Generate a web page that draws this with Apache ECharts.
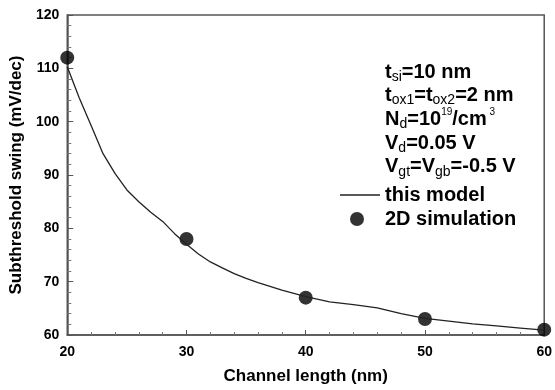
<!DOCTYPE html>
<html lang="en">
<head>
  <meta charset="UTF-8">
  <script src="https://cdn.jsdelivr.net/npm/echarts@6/dist/echarts.min.js"></script>
</head>
<body style="margin:0;background:#fff;">
<div id="main" style="width:555px;height:390px;"></div>

<script>
  // model curve (channel length in nm, swing in mV/dec)
  var modelX = [20, 21, 22, 23, 24, 25, 26, 27, 28, 29, 30, 31, 32, 33, 34, 35, 36, 37, 38, 39, 40, 42, 44, 46, 48, 50, 52, 54, 56, 58, 60];
  var modelY = [110.3, 104.5, 99.3, 94.0, 90.3, 87.2, 85.0, 83.0, 81.3, 79.0, 77.0, 75.2, 73.7, 72.6, 71.5, 70.6, 69.8, 69.1, 68.4, 67.8, 67.2, 66.2, 65.7, 65.1, 64.0, 63.1, 62.6, 62.1, 61.7, 61.3, 60.9];
  // 2D simulation points
  var simX = [20, 30, 40, 50, 60];
  var simY = [112, 78, 67, 63, 61];

  var font = 'Liberation Sans';
  var main = echarts.init(document.querySelector('#main'));

  var modelData = [], simData = [];
  for (var i = 0; i < modelX.length; i++) modelData.push([modelX[i], modelY[i]]);
  for (var j = 0; j < simX.length; j++) simData.push([simX[j], simY[j]]);

  var legendText = {fontFamily: font, fontWeight: 'bold', fontSize: 20, lineHeight: 20, color: '#000'};

  main.setOption({
    animation: false,
    grid: {left: 67, right: 7, top: 15, bottom: 55, show: true, borderColor: '#555', borderWidth: 1.5},
    legend: [{
      left: 340, top: 185, padding: 0,
      itemWidth: 40, itemHeight: 1.5,
      textStyle: legendText,
      data: [{name: 'this model', icon: 'path://M0,0L40,0L40,1.5L0,1.5Z'}]
    }, {
      left: 350, top: 209, padding: 0,
      itemWidth: 40, itemHeight: 14,
      textStyle: Object.assign({padding: [0, 0, 0, 3]}, legendText),
      data: [{name: '2D simulation', icon: 'circle'}]
    }],
    xAxis: {
      type: 'value', min: 20, max: 60, interval: 10,
      name: 'Channel length (nm)', nameLocation: 'middle', nameGap: 33,
      nameTextStyle: {fontFamily: font, fontWeight: 'bold', fontSize: 17, color: '#000'},
      axisLine: {lineStyle: {color: '#555', width: 1.5}},
      axisTick: {inside: true, length: 5, lineStyle: {color: '#555'}},
      minorTick: {show: true, splitNumber: 5, length: 3, lineStyle: {color: '#777'}},
      axisLabel: {fontFamily: font, fontWeight: 'bold', fontSize: 14, color: '#000', margin: 10},
      splitLine: {show: false}
    },
    yAxis: {
      type: 'value', min: 60, max: 120, interval: 10,
      name: 'Subthreshold swing (mV/dec)', nameLocation: 'middle', nameGap: 40,
      nameTextStyle: {fontFamily: font, fontWeight: 'bold', fontSize: 17, color: '#000'},
      axisLine: {lineStyle: {color: '#555', width: 1.5}},
      axisTick: {inside: true, length: 6, lineStyle: {color: '#555'}},
      minorTick: {show: true, splitNumber: 5, length: 4, lineStyle: {color: '#777'}},
      axisLabel: {fontFamily: font, fontWeight: 'bold', fontSize: 14, color: '#000', margin: 8},
      splitLine: {show: false}
    },
    graphic: [{
      type: 'text', left: 385, top: 62,
      style: {
        text: '{b|t}{s|si}{b|=10 nm}\n' +
              '{b|t}{s|ox1}{b|=t}{s|ox2}{b|=2 nm}\n' +
              '{b|N}{s|d}{b|=10}{p|19}{b|/cm}{p| 3}\n' +
              '{b|V}{s|d}{b|=0.05 V}\n' +
              '{b|V}{s|gt}{b|=V}{s|gb}{b|=-0.5 V}',
        fill: '#000',
        rich: {
          b: {fontFamily: font, fontWeight: 'bold', fontSize: 20, lineHeight: 23.7, fill: '#000'},
          s: {fontFamily: font, fontSize: 14, lineHeight: 19.5, verticalAlign: 'bottom', fill: '#000'},
          p: {fontFamily: font, fontSize: 10, verticalAlign: 'top', fill: '#000'}
        }
      }
    }],
    series: [{
      name: 'this model',
      type: 'line',
      data: modelData,
      symbol: 'none',
      lineStyle: {color: '#222', width: 1.3},
      itemStyle: {color: '#222'}
    }, {
      name: '2D simulation',
      type: 'scatter',
      data: simData,
      symbol: 'circle',
      symbolSize: 14,
      clip: false,
      itemStyle: {color: '#000'}
    }]
  });
</script>
</body>
</html>
